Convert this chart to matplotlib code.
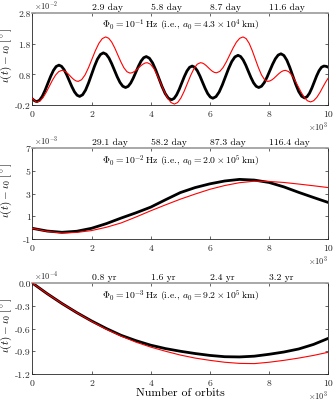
import matplotlib
matplotlib.use("Agg")
import matplotlib.pyplot as plt

plt.rcParams.update({
    "font.family": "serif",
    "font.serif": ["cmr10", "DejaVu Serif"],
    "mathtext.fontset": "cm",
    "axes.unicode_minus": False,
    "axes.formatter.use_mathtext": True,
    "lines.solid_joinstyle": "round",
})

# ---------------- Panel 1 data (x in 10^3 orbits, y in 10^-2 deg) ----------------
x1_black = [0, 0.075, 0.15,
            0.244, 0.338, 0.431, 0.525, 0.619, 0.713, 0.806, 0.9,
            0.988, 1.075, 1.163, 1.25, 1.338, 1.425, 1.513, 1.6,
            1.7, 1.8, 1.9, 2.0, 2.1, 2.2, 2.3, 2.4,
            2.494, 2.588, 2.681, 2.775, 2.869, 2.963, 3.056, 3.15,
            3.238, 3.325, 3.413, 3.5, 3.588, 3.675, 3.763, 3.85,
            3.956, 4.063, 4.169, 4.275, 4.381, 4.488, 4.594, 4.7,
            4.788, 4.875, 4.963, 5.05, 5.138, 5.225, 5.313, 5.4,
            5.488, 5.575, 5.663, 5.75, 5.838, 5.925, 6.013, 6.1,
            6.206, 6.313, 6.419, 6.525, 6.631, 6.738, 6.844, 6.95,
            7.038, 7.125, 7.213, 7.3, 7.388, 7.475, 7.563, 7.65,
            7.744, 7.838, 7.931, 8.025, 8.119, 8.213, 8.306, 8.4,
            8.5, 8.6, 8.7, 8.8, 8.9, 9.0, 9.1, 9.2,
            9.281, 9.363, 9.444, 9.525, 9.606, 9.688, 9.769, 9.85,
            9.93, 10.0]
y1_black = [0.0, -0.06, -0.09,
            -0.045, 0.084, 0.278, 0.505, 0.732, 0.926, 1.055, 1.1,
            1.061, 0.951, 0.785, 0.59, 0.395, 0.229, 0.119, 0.08,
            0.134, 0.287, 0.519, 0.79, 1.061, 1.293, 1.446, 1.5,
            1.457, 1.335, 1.151, 0.935, 0.719, 0.535, 0.413, 0.37,
            0.408, 0.517, 0.682, 0.875, 1.068, 1.233, 1.342, 1.38,
            1.326, 1.174, 0.944, 0.675, 0.406, 0.176, 0.024, -0.03,
            0.012, 0.131, 0.31, 0.52, 0.73, 0.909, 1.028, 1.07,
            1.03, 0.917, 0.746, 0.545, 0.344, 0.173, 0.06, 0.02,
            0.073, 0.224, 0.453, 0.72, 0.987, 1.216, 1.367, 1.42,
            1.38, 1.267, 1.096, 0.895, 0.694, 0.523, 0.41, 0.37,
            0.412, 0.531, 0.71, 0.92, 1.13, 1.309, 1.428, 1.47,
            1.415, 1.26, 1.025, 0.75, 0.475, 0.24, 0.085, 0.03,
            0.07, 0.182, 0.351, 0.55, 0.749, 0.918, 1.03, 1.07,
            1.06, 1.03]

x1_red = [0, 0.075, 0.15,
          0.256, 0.363, 0.469, 0.575, 0.681, 0.788, 0.894, 1.0,
          1.069, 1.138, 1.206, 1.275, 1.344, 1.413, 1.481, 1.55,
          1.666, 1.783, 1.899, 2.015, 2.131, 2.248, 2.364, 2.48,
          2.583, 2.685, 2.788, 2.89, 2.993, 3.095, 3.198, 3.3,
          3.373, 3.445, 3.518, 3.59, 3.663, 3.735, 3.808, 3.88,
          3.995, 4.11, 4.225, 4.34, 4.455, 4.57, 4.685, 4.8,
          4.91, 5.02, 5.13, 5.24, 5.35, 5.46, 5.57, 5.68,
          5.748, 5.815, 5.883, 5.95, 6.018, 6.085, 6.153, 6.22,
          6.333, 6.445, 6.558, 6.67, 6.783, 6.895, 7.008, 7.12,
          7.224, 7.328, 7.431, 7.535, 7.639, 7.743, 7.846, 7.95,
          8.025, 8.1, 8.175, 8.25, 8.325, 8.4, 8.475, 8.55,
          8.656, 8.763, 8.869, 8.975, 9.081, 9.188, 9.294, 9.4,
          9.506, 9.613, 9.719, 9.825, 9.931, 10.0]
y1_red = [0.02, -0.06, -0.11,
          -0.07, 0.042, 0.211, 0.41, 0.609, 0.778, 0.89, 0.93,
          0.916, 0.877, 0.819, 0.75, 0.681, 0.623, 0.584, 0.57,
          0.625, 0.782, 1.018, 1.295, 1.572, 1.808, 1.965, 2.02,
          1.975, 1.848, 1.655, 1.43, 1.205, 1.012, 0.885, 0.84,
          0.853, 0.89, 0.945, 1.01, 1.075, 1.13, 1.167, 1.18,
          1.129, 0.983, 0.763, 0.505, 0.247, 0.027, -0.119, -0.17,
          -0.119, 0.027, 0.247, 0.505, 0.763, 0.983, 1.129, 1.18,
          1.167, 1.132, 1.078, 1.015, 0.952, 0.898, 0.863, 0.85,
          0.894, 1.021, 1.212, 1.435, 1.658, 1.849, 1.976, 2.02,
          1.965, 1.808, 1.572, 1.295, 1.018, 0.782, 0.625, 0.57,
          0.584, 0.623, 0.681, 0.75, 0.819, 0.877, 0.916, 0.93,
          0.891, 0.78, 0.612, 0.415, 0.218, 0.05, -0.061, -0.1,
          -0.06, 0.05, 0.21, 0.40, 0.58, 0.68]

# ---------------- Panel 2 data (y in 10^-3 deg) ----------------
x2 = [0, 0.5, 1, 1.5, 2, 2.5, 3, 3.5, 4, 4.5, 5, 5.5, 6, 6.5, 7, 7.5, 8, 8.5, 9, 9.5, 10]
y2_black = [-0.06, -0.3, -0.41, -0.32, -0.06, 0.35, 0.84, 1.3, 1.8, 2.45, 3.08, 3.52, 3.85,
            4.1, 4.24, 4.18, 3.97, 3.58, 3.1, 2.65, 2.21]
y2_red = [-0.06, -0.33, -0.47, -0.42, -0.26, 0.03, 0.41, 0.93, 1.48, 2.0, 2.5, 2.95, 3.37,
          3.7, 3.95, 4.08, 4.06, 3.97, 3.83, 3.68, 3.52]

# ---------------- Panel 3 data (y in 10^-4 deg) ----------------
x3 = [0, 0.5, 1, 1.5, 2, 2.5, 3, 3.5, 4, 4.5, 5, 5.5, 6, 6.5, 7, 7.5, 8, 8.5, 9, 9.5, 10]
y3_black = [0.0, -0.14, -0.27, -0.39, -0.50, -0.60, -0.69, -0.76, -0.82, -0.865, -0.90,
            -0.93, -0.955, -0.972, -0.975, -0.965, -0.94, -0.91, -0.87, -0.81, -0.73]
y3_red = [0.0, -0.14, -0.27, -0.39, -0.505, -0.61, -0.70, -0.78, -0.845, -0.90, -0.95,
          -0.99, -1.02, -1.045, -1.06, -1.063, -1.045, -1.02, -0.99, -0.955, -0.913]

titles = [r"$\Phi_0 = 10^{-1}\,\mathrm{Hz}$ (i.e., $a_0 = 4.3\times10^{4}\,\mathrm{km}$)",
          r"$\Phi_0 = 10^{-2}\,\mathrm{Hz}$ (i.e., $a_0 = 2.0\times10^{5}\,\mathrm{km}$)",
          r"$\Phi_0 = 10^{-3}\,\mathrm{Hz}$ (i.e., $a_0 = 9.2\times10^{5}\,\mathrm{km}$)"]
top_labels = [["2.9 day", "5.8 day", "8.7 day", "11.6 day"],
              ["29.1 day", "58.2 day", "87.3 day", "116.4 day"],
              ["0.8 yr", "1.6 yr", "2.4 yr", "3.2 yr"]]
top_pos = [2, 4, 6, 8]
y_offsets = [r"$\times10^{-2}$", r"$\times10^{-3}$", r"$\times10^{-4}$"]
ylims = [(-0.2, 2.8), (-1, 7), (-1.2, 0.0)]
yticks = [[-0.2, 0.8, 1.8, 2.8], [-1, 1, 3, 5, 7], [-1.2, -0.9, -0.6, -0.3, 0.0]]
ytick_labels = [["-0.2", "0.8", "1.8", "2.8"], ["-1", "1", "3", "5", "7"],
                ["-1.2", "-0.9", "-0.6", "-0.3", "0.0"]]
xticks = [0, 2, 4, 6, 8, 10]

fig = plt.figure(figsize=(3.35, 4.02), dpi=100)
W, H = 335.0, 402.0
left = 32.3 / W
width = 296.0 / W
boxes = [(14.0, 106.0), (149.0, 240.0), (284.0, 375.0)]

data = [(x1_black, y1_black, x1_red, y1_red),
        (x2, y2_black, x2, y2_red),
        (x3, y3_black, x3, y3_red)]

fs = 7
for i in range(3):
    top, bot = boxes[i]
    ax = fig.add_axes([left, 1 - bot / H, width, (bot - top) / H])
    xb, yb, xr, yr = data[i]
    ax.plot(xb, yb, color="black", lw=2.0, zorder=2)
    ax.plot(xr, yr, color="#ff0000", lw=0.8, zorder=3)
    ax.set_xlim(0, 10)
    ax.set_ylim(*ylims[i])
    ax.set_xticks(xticks)
    ax.set_xticklabels([str(t) for t in xticks])
    ax.set_yticks(yticks[i])
    ax.set_yticklabels(ytick_labels[i])
    ax.tick_params(direction="in", length=2.5, width=0.5, labelsize=fs, pad=1.2,
                   top=True, right=True, colors="#262626")
    ax.tick_params(axis="x", pad=3)
    for s in ["left", "right", "bottom"]:
        ax.spines[s].set_color("#262626")
        ax.spines[s].set_linewidth(0.6)
    ax.spines["top"].set_color("#9a9a9a")
    ax.spines["top"].set_linewidth(1.2)
    ax.text(0.5, 0.875, titles[i], transform=ax.transAxes, ha="center", va="center",
            fontsize=fs)
    for p, lab in zip(top_pos, top_labels[i]):
        ax.annotate(lab, xy=(p, 1), xycoords=("data", "axes fraction"),
                    xytext=(0, 1.5), textcoords="offset pixels",
                    ha="left", va="bottom", fontsize=fs)
    ax.annotate(y_offsets[i], xy=(0, 1), xycoords="axes fraction",
                xytext=(2, 1.5), textcoords="offset pixels",
                ha="left", va="bottom", fontsize=6, color="#262626")
    ax.annotate(r"$\times10^{3}$", xy=(1, 0), xycoords="axes fraction",
                xytext=(0, -14), textcoords="offset pixels",
                ha="right", va="top", fontsize=6, color="#262626")
    ax.set_ylabel(r"$\iota(t) - \iota_0\ [^\circ]$", fontsize=8)
    ax.yaxis.set_label_coords(-0.062, 0.55)
    if i == 2:
        ax.set_xlabel("Number of orbits", fontsize=8.5, labelpad=1)

fig.savefig("out.png", dpi=100)
